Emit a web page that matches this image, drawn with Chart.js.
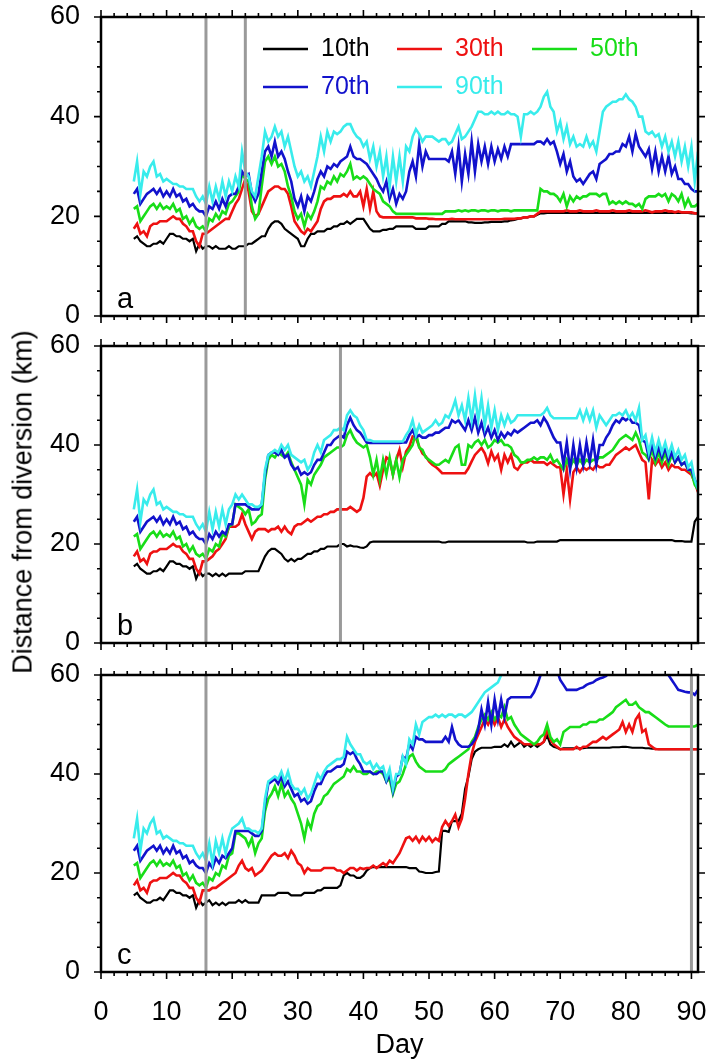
<!DOCTYPE html>
<html>
<head>
<meta charset="utf-8">
<script src="https://cdn.jsdelivr.net/npm/chart.js@4.4.1/dist/chart.umd.min.js"></script>
<style>
	body { margin: 0; background: #fff; }
	#fig { position: relative; width: 709px; height: 1059px; overflow: hidden; }
	#fig canvas { position: absolute; left: 0; }
	#ytitle {
		position: absolute; left: 23px; top: 502px;
		transform: translate(-50%, -50%) rotate(-90deg);
		font: 27px "Liberation Sans", Arial, sans-serif;
		white-space: nowrap; color: #000;
	}
</style>
</head>
<body>
<div id="fig">
	<canvas id="panelA" width="709" height="330" style="top:0px"></canvas>
	<canvas id="panelB" width="709" height="330" style="top:330px"></canvas>
	<canvas id="panelC" width="709" height="399" style="top:660px"></canvas>
	<div id="ytitle">Distance from diversion (km)</div>
</div>
<script>
// day of each sample, one row = 5 days
const days = [
	5, 5.5, 6, 6.5, 7, 7.5, 8, 8.5, 9, 9.5,
	10, 10.5, 11, 11.5, 12, 12.5, 13, 13.5, 14, 14.5,
	15, 15.5, 16, 16.5, 17, 17.5, 18, 18.5, 19, 19.5,
	20, 20.5, 21, 21.5, 22, 22.5, 23, 23.5, 24, 24.5,
	25, 25.5, 26, 26.5, 27, 27.5, 28, 28.5, 29, 29.5,
	30, 30.5, 31, 31.5, 32, 32.5, 33, 33.5, 34, 34.5,
	35, 35.5, 36, 36.5, 37, 37.5, 38, 38.5, 39, 39.5,
	40, 40.5, 41, 41.5, 42, 42.5, 43, 43.5, 44, 44.5,
	45, 45.5, 46, 46.5, 47, 47.5, 48, 48.5, 49, 49.5,
	50, 50.5, 51, 51.5, 52, 52.5, 53, 53.5, 54, 54.5,
	55, 55.5, 56, 56.5, 57, 57.5, 58, 58.5, 59, 59.5,
	60, 60.5, 61, 61.5, 62, 62.5, 63, 63.5, 64, 64.5,
	65, 65.5, 66, 66.5, 67, 67.5, 68, 68.5, 69, 69.5,
	70, 70.5, 71, 71.5, 72, 72.5, 73, 73.5, 74, 74.5,
	75, 75.5, 76, 76.5, 77, 77.5, 78, 78.5, 79, 79.5,
	80, 80.5, 81, 81.5, 82, 82.5, 83, 83.5, 84, 84.5,
	85, 85.5, 86, 86.5, 87, 87.5, 88, 88.5, 89, 89.5,
	90, 90.5, 91,
]

const percentiles = ['10th', '30th', '50th', '70th', '90th']
const colors = ['#000000', '#ee1111', '#18dd18', '#1212cc', '#38ecec']
const xTicks = [0, 10, 20, 30, 40, 50, 60, 70, 80, 90]
const yTicks = [0, 20, 40, 60]

// vertical grey lines (days)
const eventsA = [16, 22]
const eventsB = [16, 36.5]
const eventsC = [16, 90]

// ---- panel a ----
const a10 = [
	15.5, 16, 15, 14.5, 14, 14, 14.5, 14.5, 15, 14.5,
	15.5, 16.5, 16.5, 16, 16, 15.5, 15.5, 15, 15.5, 13,
	14.5, 13.5, 14, 14, 13.5, 14, 13.5, 13.5, 13.5, 14,
	13.5, 13.5, 14, 14, 14, 14.5, 14.5, 15, 15.5, 16,
	16, 17.5, 18.5, 19, 19, 18.5, 17.5, 17, 16.5, 16,
	15.5, 14, 14, 15.5, 16.5, 16.5, 17, 17, 17, 17.5,
	17.5, 18, 18, 18.5, 18.5, 19, 18.5, 19, 19.5, 19.5,
	19.5, 18.5, 17.5, 17, 17, 17, 17.3, 17.3, 17.5, 17.5,
	18, 18, 18, 18, 18, 18, 17.5, 17.5, 17.5, 17.5,
	18, 18, 18, 18, 18.5, 18.5, 19, 19, 19, 19,
	19, 19, 18.8, 18.8, 18.7, 18.7, 18.7, 18.8, 18.8, 18.9,
	18.9, 18.9, 18.9, 19, 19, 19.2, 19.3, 19.5, 19.6, 19.8,
	19.8, 20, 20, 20.3, 20.6, 20.6, 20.7, 20.7, 20.7, 20.7,
	20.7, 20.7, 20.7, 20.7, 20.7, 20.7, 20.7, 20.7, 20.7, 20.7,
	20.7, 20.7, 20.7, 20.7, 20.7, 20.7, 20.7, 20.7, 20.7, 20.7,
	20.7, 20.7, 20.7, 20.7, 20.7, 20.7, 20.7, 20.7, 20.7, 20.7,
	20.7, 20.7, 20.7, 20.7, 20.7, 20.7, 20.7, 20.7, 20.7, 20.7,
	20.6, 20.6, 20.6,
]
const a30 = [
	17.5, 18.5, 16.5, 17, 16, 18, 18.5, 18.5, 19, 19,
	19, 19.5, 20, 19.5, 19.5, 18.5, 18, 17, 17, 15,
	14, 16.5, 16.5, 17, 17.5, 18, 18.5, 19, 19.5, 19.5,
	21, 22.5, 23.5, 25.5, 27.5, 25, 21, 20, 20.5, 22,
	23.5, 25, 25.5, 26, 26, 25.5, 25.5, 24.5, 22, 19,
	18, 17, 16.5, 17.5, 17, 18, 19, 21.5, 23, 23.5,
	23.5, 24, 24, 24, 24.5, 24, 25, 24, 24, 25,
	22, 25.5, 21.5, 25, 21, 20, 19.8, 19.8, 19.8, 19.8,
	19.8, 19.8, 19.8, 19.8, 19.8, 19.8, 19.6, 19.6, 19.6, 19.6,
	19.5, 19.5, 19.4, 19.4, 19.4, 19.4, 19.4, 19.5, 19.4, 19.4,
	19.4, 19.4, 19.4, 19.4, 19.4, 19.4, 19.4, 19.4, 19.4, 19.4,
	19.4, 19.4, 19.4, 19.5, 19.5, 19.5, 19.5, 19.6, 19.6, 19.8,
	19.8, 20, 20, 20.5, 21, 21, 21, 21, 21, 21,
	21, 21, 21.2, 21, 21, 21, 21.2, 21, 21, 21,
	21, 21.2, 21, 21, 21, 21, 21.2, 21, 21, 21,
	21, 21.2, 21, 21, 21, 21, 21.2, 21, 20.8, 21,
	21, 21, 21.2, 21, 21, 20.8, 21, 20.8, 20.8, 20.8,
	20.8, 20.6, 20.6,
]
const a50 = [
	21.5, 22, 19, 20, 21, 22, 22.5, 21.5, 22.5, 21.5,
	22, 21.5, 22.5, 21, 21.5, 19.5, 20, 18.5, 19.5, 18,
	17.5, 18, 17, 19.5, 19, 20.5, 19.5, 21, 20.5, 22.5,
	23, 24, 25, 28.5, 27.5, 27, 22, 19.5, 20.5, 26,
	31, 32, 30.5, 32, 30, 30.5, 29, 26, 24, 21,
	19.5, 20.5, 18, 20.5, 19.5, 21, 23, 26, 25.5, 27,
	26.5, 28, 27, 28.5, 28, 29, 30.5, 27.5, 28, 27.5,
	28, 27.5, 26.5, 25.5, 25, 24.5, 23, 22.5, 22, 21,
	20.5, 20.5, 20.5, 20.5, 20.5, 20.5, 20.5, 20.5, 20.5, 20.5,
	20.5, 20.5, 20.5, 20.5, 20.5, 21, 21, 21, 21, 21.2,
	21, 21.2, 21, 21.2, 21.2, 21, 21.2, 21.2, 21, 21.2,
	21.2, 21, 21.2, 21.2, 21.2, 21, 21.2, 21.2, 21.2, 21.2,
	21.2, 21.2, 21.2, 21.2, 25.5, 25, 25, 24.5, 24.5, 24,
	23, 24.5, 22, 24, 23, 24, 23.5, 24, 24, 24.5,
	24.5, 24.5, 24, 24.5, 24.5, 22.5, 23, 22.5, 23, 22.5,
	23, 22.5, 22.5, 22, 22.5, 21.5, 23.5, 24, 24, 24,
	24.5, 24, 24.5, 23, 24.5, 24, 23, 24.5, 22, 23.5,
	22, 22, 22.5,
]
const a70 = [
	24.5, 25.5, 22.5, 23.5, 24.5, 25, 25.5, 24.5, 25.5, 24,
	25, 24, 25.5, 24, 24.5, 23, 23.5, 22, 22.5, 21.5,
	21, 21, 20, 22, 21.5, 23, 21.5, 23.5, 22, 24,
	24.5, 24.5, 26, 29, 28, 28.5, 24.5, 23, 24.5, 29,
	33, 34, 32, 35, 32, 33, 31.5, 29, 27, 23.5,
	22, 24, 21, 24, 23, 25, 27.5, 29, 28, 30,
	29.5, 30.5, 30, 31, 31.5, 32, 34, 32, 31.5, 31.5,
	31, 30.5, 29.5, 28.5, 27.5, 26, 25, 27, 23.5, 25.5,
	22.5, 24.5, 23.5, 25, 29, 31, 28, 34.5, 30, 33,
	31.5, 31.5, 31.5, 31.5, 31.5, 31.5, 31, 33, 28.5, 34,
	27, 32.5, 28.5, 35, 29, 34.5, 31, 34, 30.5, 34,
	31, 33.5, 31.5, 34, 32, 34.5, 34.5, 34.5, 34.5, 34.5,
	34.5, 34.5, 34.5, 35, 35, 34.5, 35.5, 34.5, 35, 33,
	30.5, 32.5, 29, 31, 28, 27, 27.5, 26.5, 27.5, 28.5,
	29, 27.5, 30.5, 31, 31.5, 32.5, 32.5, 33, 33, 34.5,
	34, 36, 33, 36.5, 34, 33, 32, 33.5, 29.5, 33,
	29, 32, 29, 32, 28.5, 30, 27.5, 27.5, 26.5, 26.5,
	25.5, 25, 25,
]
const a90 = [
	27, 31, 24.5, 29, 28, 30, 31, 28, 28.5, 27,
	27.5, 27, 26.5, 26.5, 26, 26, 25.5, 25.5, 25.5, 24,
	23, 24, 22.5, 26, 23, 26, 23.5, 27, 24, 27,
	25, 28, 26, 33, 29, 28, 25, 24, 28, 32,
	37, 35, 36, 38, 36, 37, 34, 36, 33, 30,
	28, 29, 27, 28, 26, 29, 32, 36, 33, 37,
	35, 37, 36.5, 37, 38, 38.5, 38.5, 37, 36, 35.5,
	34, 35, 31.5, 34, 30, 33, 28, 32, 26, 32,
	27, 32, 27, 34, 33, 36, 37.5, 36.5, 35, 36,
	36, 36, 35.5, 35, 35.5, 35.5, 34.5, 35, 36.5, 38,
	35.5, 36, 37, 38, 39.5, 41, 41, 40.5, 40.5, 41,
	40.5, 41, 40.5, 40.5, 41, 40.5, 40.5, 40, 36, 40.5,
	40.5, 41, 40.5, 41, 42, 44, 45, 42, 41, 37,
	39, 35.5, 38, 34.5, 36, 34, 34.5, 34, 36, 34,
	35, 33, 37, 41, 42, 42.5, 43, 43, 43.5, 43.5,
	44.5, 43.5, 43, 42, 40, 40, 37, 36.5, 37, 36,
	36.5, 34, 36, 33, 35, 32, 35, 31, 34, 30,
	34, 27, 33,
]

// ---- panel b ----
const b10 = [
	15.5, 16, 15, 14.5, 14, 14, 14.5, 14.5, 15, 14.5,
	15.5, 16.5, 16.5, 16, 16, 15.5, 15.5, 15, 15.5, 13,
	14.5, 13.5, 14, 14, 13.5, 14, 13.5, 14, 13.5, 14,
	14, 14, 14, 14, 14.5, 14.5, 14.5, 14.5, 14.5, 16,
	17.5, 18.5, 19, 19, 18.5, 18, 17, 16.5, 17, 16.5,
	17, 17, 17.5, 18, 18, 18.5, 18.5, 19, 19, 19.5,
	19.5, 19.5, 19.5, 20, 20, 19.5, 19.7, 19.5, 19.5, 19.3,
	19.2, 19.5, 20.3, 20.5, 20.5, 20.5, 20.5, 20.5, 20.5, 20.5,
	20.5, 20.5, 20.5, 20.5, 20.5, 20.5, 20.5, 20.5, 20.5, 20.5,
	20.5, 20.5, 20.5, 20.5, 20.3, 20.3, 20.5, 20.5, 20.5, 20.5,
	20.5, 20.5, 20.5, 20.5, 20.5, 20.5, 20.5, 20.5, 20.5, 20.5,
	20.5, 20.5, 20.5, 20.5, 20.5, 20.5, 20.5, 20.5, 20.5, 20.5,
	20.3, 20.3, 20.3, 20.5, 20.5, 20.5, 20.5, 20.5, 20.5, 20.5,
	20.8, 20.8, 20.8, 20.8, 20.8, 20.8, 20.8, 20.8, 20.8, 20.8,
	20.8, 20.8, 20.8, 20.8, 20.8, 20.8, 20.8, 20.8, 20.8, 20.8,
	20.8, 20.8, 20.8, 20.8, 20.8, 20.8, 20.8, 20.8, 20.8, 20.8,
	20.8, 20.8, 20.8, 20.8, 20.8, 20.6, 20.6, 20.6, 20.5, 20.5,
	20.5, 24.5, 25.5,
]
const b30 = [
	17.5, 18.5, 16.5, 17, 16, 18, 18.5, 18.5, 19, 19,
	19, 19.5, 20, 19.5, 19.5, 18.5, 18, 17, 17, 15,
	14, 16.5, 16.5, 17, 17.5, 18.5, 19, 20, 21, 23.5,
	23.5, 23.5, 24, 26, 24, 22.5, 21, 22.5, 23, 23,
	23, 22.5, 23, 23, 23.5, 22.5, 23.5, 22.5, 22, 23.5,
	24, 24, 24.5, 25, 24.5, 25, 25.5, 25.5, 26, 26,
	26.5, 26.5, 27, 27, 27, 27, 27.5, 27, 26.5, 27,
	29.3, 33.6, 34.3, 33.6, 34.3, 31.8, 35, 37.5, 37, 34,
	37, 39, 35.6, 38.7, 39.7, 41.7, 41.4, 39.7, 38.3, 37.7,
	36.7, 36, 35.6, 35, 34.3, 34.3, 34.3, 34.3, 34.3, 34.3,
	34.3, 34.3, 35.3, 36.7, 38, 38.7, 39.4, 38.3, 36.3, 38.7,
	37, 38, 35, 38, 36.5, 38, 35.5, 35, 36, 36.5,
	36.5, 37, 36.5, 36.5, 36.5, 36.5, 36, 36.5, 36, 35.5,
	35.5, 30, 35, 29, 34.5, 35.5, 34.5, 35.5, 35, 35.5,
	35, 36, 35.5, 35.5, 36, 36, 37, 38, 38.5, 39,
	39.5, 39, 39.5, 40, 38.5, 37, 36.5, 29, 37, 36,
	37, 35.5, 36.5, 35, 36, 35.5, 35.5, 35, 35, 34.5,
	34, 32.5, 30.5,
]
const b50 = [
	21.5, 22, 19, 20, 21, 22, 22.5, 21.5, 22.5, 21.5,
	22, 21.5, 22.5, 21, 21.5, 19.5, 20, 18.5, 19.5, 18,
	17.5, 18, 17, 19, 18.5, 20, 19.5, 22, 21.5, 23.5,
	24, 28, 27.5, 27, 26, 27, 24, 24.5, 25.5, 26,
	33, 37, 38, 37.5, 38.5, 38, 37.5, 38.5, 36.5, 35,
	33.5, 32, 28, 33, 32, 34, 35, 36, 37.5, 38,
	38.5, 39, 39.5, 39.5, 40, 42, 43, 41.5, 40.5, 40,
	39.5, 40, 37.5, 34, 37, 33, 37, 34, 37.5, 34,
	37, 33.5, 37, 38, 39, 40, 42.5, 39.5, 39, 37.5,
	37, 36.5, 36, 36, 36.5, 37, 36.5, 38, 39.5, 40,
	36, 36, 40, 39.5, 40.5, 41, 40, 41, 39.5, 40,
	41, 40.5, 41, 40, 40, 39.5, 38, 37.5, 36.5, 36.5,
	37, 37, 37.5, 37, 37.5, 37.5, 37, 38, 36.5, 37,
	36, 35, 37, 35.5, 37, 36, 37, 36, 37, 36.5,
	37, 37, 37.5, 37.5, 38, 38.5, 39, 40, 41, 41.5,
	42, 41.5, 41, 42.5, 41, 38.5, 38, 37, 39, 36.5,
	38.5, 36.5, 38.5, 36, 38, 36.5, 37.5, 36, 36.5, 35,
	34.5, 32, 31,
]
const b70 = [
	24.5, 25.5, 22.5, 23.5, 24.5, 25, 25.5, 24.5, 25.5, 24,
	25, 24, 25.5, 24, 24.5, 23, 23.5, 22, 22.5, 21.5,
	21, 21, 20, 22, 21, 22.5, 21.5, 22.5, 22, 24,
	24, 28, 28, 28, 28, 27.5, 27, 27, 27, 28,
	34, 38, 38.5, 38.5, 38, 39, 37.5, 38, 36, 35,
	35.5, 34, 34.5, 34, 34.5, 36, 37, 37, 38.5, 40,
	40, 41, 41.5, 42, 41.5, 44, 45.5, 44, 43, 42.5,
	41.5, 40.5, 40.4, 40.4, 40.4, 40.4, 40.4, 40.4, 40.4, 40.4,
	40.4, 40.4, 40.5, 40.5, 42, 43, 41.5, 42, 41.5, 41.5,
	42, 42, 42.5, 42.5, 43, 43.5, 43.5, 45, 44.5, 45,
	44, 43, 45, 43, 45.5, 42.5, 44.5, 42, 43.5, 41.5,
	43, 41, 42.5, 41.5, 42.5, 42, 43, 42.5, 43, 43.5,
	44, 44.5, 44.5, 45, 44, 45.5, 44.5, 43, 41.5, 40.5,
	40.5, 36, 40.5, 35, 40, 35.5, 40, 36, 40.5, 36.5,
	41, 36, 40, 40, 41.5, 42.5, 44, 45, 44.5, 45.5,
	45, 45.5, 44.5, 44.5, 44, 41, 40.5, 37.5, 40, 37.5,
	39.5, 37.5, 39.5, 37, 38.5, 36.5, 37.5, 36, 36.5, 35,
	35, 33, 31.5,
]
const b90 = [
	27, 31, 24.5, 29, 28, 30, 31, 28, 28.5, 27,
	27.5, 27, 26.5, 26.5, 26, 26, 25.5, 25.5, 25.5, 24,
	23, 24, 22.5, 26.5, 23, 26.5, 23.5, 27, 24, 27,
	28, 30, 29, 30, 29, 28, 28, 27.5, 27.5, 28,
	35, 38, 38.5, 39, 38.5, 40, 39, 40, 38, 37.5,
	37, 36.5, 37, 35, 36, 38.5, 40, 38.5, 41, 41.5,
	42, 43, 43, 43.5, 43, 46, 47, 46, 45.5, 44,
	43, 41, 41, 40.7, 40.7, 40.7, 40.7, 40.7, 40.7, 40.7,
	40.7, 40.7, 40.7, 42, 43, 45, 42, 44, 42.5, 43,
	43.5, 44, 45, 44, 44.5, 46, 45.5, 47, 49, 46,
	48, 45, 49.5, 45, 50, 45, 49.5, 44, 48, 43.5,
	47, 43, 46, 44, 46, 44.5, 45, 46, 46, 46,
	46, 46, 46, 46, 46, 46.5, 47.5, 46, 45.4, 45.4,
	45.4, 45.4, 45.4, 45.4, 45.4, 45.4, 47, 45, 47, 45,
	47, 43.5, 46, 45, 44, 45, 46, 46, 46.5, 46,
	47, 45.5, 46.5, 45, 47.5, 41, 42, 38.5, 41.5, 38.5,
	41, 38.5, 40.5, 38, 40, 37.5, 39, 37, 38, 35.5,
	36.5, 33, 31,
]

// ---- panel c ----
const c10 = [
	15.5, 16, 15, 14.5, 14, 14, 14.5, 14.5, 15, 14.5,
	15.5, 16.5, 16.5, 16, 16, 15.5, 15.5, 15, 15.5, 13,
	14.5, 13.5, 14, 14.5, 13.5, 14, 13.5, 14, 13.5, 14,
	14, 14, 14.5, 14, 14.5, 14, 14, 14, 14, 15.5,
	15.5, 15.5, 15.5, 15.5, 16, 16, 16, 16, 15.5, 15.5,
	15.5, 15.5, 16, 16, 16, 16, 16.5, 16.5, 17, 17,
	17, 17, 17, 17.5, 19.5, 20, 19.5, 19.5, 19, 19,
	19.5, 20.5, 21, 21.2, 21.2, 21.2, 21.2, 21.2, 21.2, 21.2,
	21.2, 21.2, 21.2, 21.2, 21, 21, 21, 20.3, 20.2, 20,
	20, 20, 20.2, 20.3, 28.5, 28.5, 28.3, 30.5, 30.5, 30.5,
	32, 37, 39.5, 43, 44.5, 45, 45.3, 45.3, 45.3, 45.3,
	45.5, 45.5, 45.5, 46, 45.5, 46.5, 45.5, 46, 46.5, 45.5,
	46, 45.5, 46, 45.5, 46, 46.5, 47.8, 46, 45.5, 45.3,
	45, 45.2, 45.2, 45.2, 45.2, 45.2, 45.2, 45.2, 45.3, 45.3,
	45.3, 45.3, 45.3, 45.3, 45.3, 45.3, 45.4, 45.4, 45.4, 45.5,
	45.5, 45.4, 45.3, 45.3, 45.3, 45.3, 45.2, 45.2, 45.1, 45.1,
	45, 45, 45, 45, 45, 45, 45, 45, 45, 45,
	45, 45, 45,
]
const c30 = [
	17.5, 18.5, 16.5, 17, 16, 18, 18.5, 18.5, 19, 19,
	19, 19.5, 20, 19.5, 19.5, 18.5, 18, 17, 17, 15,
	14, 16.5, 16.5, 16.5, 17, 17, 17.5, 18, 18.5, 19,
	19.5, 20, 21.5, 22.5, 21, 20.5, 21, 19.5, 20, 20.5,
	21.5, 22.5, 23.5, 24, 23.5, 23.5, 24, 23, 24.5, 23.5,
	22, 21.5, 20, 21, 20.5, 20.5, 20.5, 20.5, 21, 21,
	21, 21, 20.5, 20.5, 20, 20.5, 21, 21, 20.5, 21,
	20.8, 21, 21, 21.5, 21, 21.5, 22, 21.5, 22.5, 22,
	23, 24, 25.5, 27, 27.3, 26.5, 27.3, 26.2, 27.3, 26.5,
	27.3, 26.3, 27, 26.5, 29.3, 30.5, 29.5, 30.5, 31.8, 29.3,
	31, 35, 40, 44, 46.5, 48, 49.5, 51, 50, 51.5,
	50, 51.5, 49.5, 51, 49.5, 48.5, 47.5, 47, 46.5, 46,
	46, 46, 46, 46, 46, 46.5, 49, 47, 46, 45.5,
	45, 45, 45, 45, 45, 45.5, 45, 45.5, 45.5, 46,
	46.5, 46.5, 47, 47.5, 47, 47.5, 48, 48.5, 49, 50.5,
	48.5, 50, 48.5, 51, 52, 48.5, 49, 46, 45.5, 45,
	45, 45, 45, 45, 45, 45, 45, 45, 45, 45,
	45, 45, 45,
]
const c50 = [
	21.5, 22, 19, 20, 21, 22, 22.5, 21.5, 22.5, 21.5,
	22, 21.5, 22.5, 21, 21.5, 19.5, 20, 18.5, 19.5, 18,
	17.5, 18, 17, 19, 18.5, 20, 19.5, 21.5, 21, 23.5,
	24, 28, 28, 27.5, 27, 25.5, 27, 24, 26, 27,
	32.5, 35, 36, 37.5, 35.5, 38, 35.5, 36.5, 35, 34,
	32, 30, 27, 30.5, 29, 32, 33.5, 34, 35.5, 36,
	37, 38, 38.5, 39, 39.5, 41, 40.5, 41.5, 40.5, 40.5,
	40, 40, 40.5, 40, 40.5, 40.5, 40, 38.5, 39, 36,
	38, 38.5, 40, 42, 43.5, 44, 42.5, 41.5, 41, 40.5,
	40.5, 40.5, 40.5, 40.5, 40.5, 41, 42, 42.5, 43, 43.5,
	44, 44.5, 45, 46.5, 47.5, 49.5, 51, 52, 51, 52.5,
	51, 52, 51.5, 53.5, 51, 51.5, 50, 49, 48, 47.5,
	47, 46.5, 46, 46.5, 47.5, 48, 50, 47.5, 46.5, 47,
	46, 48.5, 49, 49.5, 49.5, 49.5, 49.5, 50, 50, 50.5,
	50.5, 50.5, 51, 51, 51.5, 52, 52.5, 53.5, 54, 54.5,
	55, 54, 54, 54.5, 53.5, 53, 52.5, 52.5, 52, 51.5,
	51, 50.5, 50, 49.6, 49.6, 49.6, 49.6, 49.6, 49.6, 49.6,
	49.6, 49.6, 50,
]
const c70 = [
	24.5, 25.5, 22.5, 23.5, 24.5, 25, 25.5, 24.5, 25.5, 24,
	25, 24, 25.5, 24, 24.5, 23, 23.5, 22, 22.5, 21.5,
	21, 21, 20, 22, 21, 23, 22, 23.5, 23, 24,
	25, 28.5, 28.5, 28.5, 28.5, 28.5, 28, 27.5, 27.5, 28.5,
	34, 38, 38.5, 39, 38, 39.5, 37.5, 38.5, 37, 35.5,
	36, 34.5, 35, 34, 34.5, 36.5, 38, 38, 39.5, 40.5,
	40.5, 41, 41.5, 41.5, 42, 44.5, 44, 44.5, 43, 42,
	40.5, 40.5, 40.5, 40, 40, 40.5, 40.5, 38.5, 40, 36.5,
	39.5, 40, 43.5, 43, 46, 45, 47.5, 47, 47, 46.5,
	46.5, 46.5, 46.5, 46.5, 46.5, 47.5, 46.5, 49.5, 47, 46,
	45.5, 45.5, 45.5, 46, 47, 49, 53, 50, 54.5, 50,
	55, 51, 55, 51.5, 55, 55.5, 55.5, 55.5, 55.5, 55.5,
	55.5, 55.5, 56.5, 58, 60, 61, 62, 62, 62, 61,
	59, 58, 57, 57, 57, 57, 57.3, 57.5, 58, 58.3,
	58.5, 59, 59.3, 59.5, 59.8, 60.5, 61, 61.5, 62, 62,
	62, 62, 62, 62, 62, 62, 62, 62, 62, 62,
	62, 61.5, 61, 60, 59, 58, 57, 56.8, 56.6, 56.5,
	56.5, 56, 57,
]
const c90 = [
	27, 31, 24.5, 29, 28, 30, 31, 28, 28.5, 27,
	27.5, 27, 26.5, 26.5, 26, 26, 25.5, 25.5, 25.5, 24,
	23, 24, 22.5, 26, 22, 26.5, 24, 27, 24, 27,
	29, 29.5, 30, 31, 29, 29, 28.5, 28.5, 28, 29,
	35, 38.5, 39, 39.5, 39, 40.5, 38.5, 40.5, 38, 37,
	37, 36, 37, 35, 36, 38, 40, 39, 40.5, 41.5,
	42, 42.5, 43, 43, 43.5, 47.5, 46, 45, 44, 44,
	42.5, 42, 42.5, 41, 42, 41, 41.5, 39, 41, 37,
	40, 40, 43.5, 42, 47, 46, 50, 48, 50.5, 51,
	51.5, 51.5, 52, 51.5, 52, 51.5, 52, 52, 51.5, 52,
	52, 51.5, 52, 52.5, 53.5, 54.5, 55.5, 56.5, 57, 57.5,
	58, 58.5, 60, 61.5, 62, 62.5, 63, 63, 63.5, 64,
	64, 64.5, 65, 65, 65.5, 66, 66, 66, 66, 66,
	66, 66, 66, 66, 66, 66, 66, 66, 66, 66,
	66, 66, 66, 66, 66, 66, 66, 66, 66, 66,
	66, 66, 66, 66, 66, 66, 66, 66, 66, 66,
	66, 66, 66, 66, 66, 66, 66, 66, 66, 66,
	66, 66, 66,
]

Chart.defaults.font.family = '"Liberation Sans", Arial, sans-serif'
Chart.defaults.color = '#000'

function lineSet(i, values) {
	return {
		label: percentiles[i],
		data: days.map((d, k) => ({ x: d, y: values[k] })),
		borderColor: colors[i],
		backgroundColor: colors[i],
		borderWidth: i === 0 ? 2.2 : 2.6,
		pointRadius: 0,
		tension: 0,
		// higher percentiles sit on top
		order: 5 - i,
	}
}

function eventSet(day) {
	return {
		label: 'event',
		data: [{ x: day, y: 0 }, { x: day, y: 60 }],
		borderColor: '#9a9a9a',
		borderWidth: 3,
		pointRadius: 0,
		order: 0,
	}
}

// frame, outward ticks on all four sides, panel letter, legend
const decor = {
	id: 'decor',
	afterDatasetsDraw(chart, args, opts) {
		const ctx = chart.ctx
		const area = chart.chartArea
		const xs = chart.scales.x
		const ys = chart.scales.y
		ctx.save()
		ctx.strokeStyle = '#000'
		ctx.lineWidth = 2.5
		ctx.strokeRect(area.left, area.top, area.right - area.left, area.bottom - area.top)

		ctx.lineWidth = 1.6
		ctx.beginPath()
		for (let d = 0; d <= 90; d += 2) {
			let px = xs.getPixelForValue(d)
			let len = d % 10 === 0 ? 7 : 4
			ctx.moveTo(px, area.bottom)
			ctx.lineTo(px, area.bottom + len)
			ctx.moveTo(px, area.top)
			ctx.lineTo(px, area.top - len)
		}
		for (let v = 0; v <= 60; v += 5) {
			let py = ys.getPixelForValue(v)
			let len = v % 20 === 0 ? 7 : 4
			ctx.moveTo(area.left, py)
			ctx.lineTo(area.left - len, py)
			ctx.moveTo(area.right, py)
			ctx.lineTo(area.right + len, py)
		}
		ctx.stroke()

		ctx.fillStyle = '#000'
		ctx.font = '29px "Liberation Sans"'
		ctx.textBaseline = 'alphabetic'
		ctx.textAlign = 'left'
		ctx.fillText(opts.letter, area.left + 16, area.bottom - 8)

		if (opts.legend) {
			let cols = [162, 296, 431]
			let rows = [32, 70]
			ctx.font = '25px "Liberation Sans"'
			ctx.textBaseline = 'middle'
			chart.data.datasets.filter(ds => ds.label !== 'event').forEach((ds, i) => {
				let x0 = area.left + cols[i % 3]
				let y0 = area.top + rows[Math.floor(i / 3)]
				ctx.strokeStyle = ds.borderColor
				ctx.lineWidth = 2.5
				ctx.beginPath()
				ctx.moveTo(x0, y0)
				ctx.lineTo(x0 + 45, y0)
				ctx.stroke()
				ctx.fillStyle = ds.borderColor
				ctx.fillText(ds.label, x0 + 58, y0)
			})
		}
		ctx.restore()
	}
}

function makePanel(id, series, events, letter, opts) {
	const datasets = series.map((s, i) => lineSet(i, s))
	events.forEach(d => datasets.push(eventSet(d)))
	return new Chart(document.getElementById(id), {
		type: 'line',
		data: { datasets: datasets },
		plugins: [decor],
		options: {
			responsive: false,
			animation: false,
			devicePixelRatio: 1,
			layout: { padding: opts.padding },
			plugins: {
				legend: { display: false },
				tooltip: { enabled: false },
				decor: { letter: letter, legend: opts.legend },
			},
			scales: {
				x: {
					type: 'linear',
					min: 0,
					max: 91,
					display: opts.showX,
					afterBuildTicks: s => { s.ticks = xTicks.map(v => ({ value: v })) },
					afterFit: s => {
						if (opts.showX) s.height = 87
						// labels may spill into the padding, keep the plot box fixed
						s.paddingLeft = 0
						s.paddingRight = 0
					},
					grid: { display: false, drawTicks: false },
					border: { display: false },
					ticks: { font: { size: 27 }, color: '#000', padding: 24, maxRotation: 0, autoSkip: false },
					title: { display: true, text: 'Day', font: { size: 27, lineHeight: 1 }, color: '#000', padding: 0 },
				},
				y: {
					type: 'linear',
					min: 0,
					max: 60,
					afterBuildTicks: s => { s.ticks = yTicks.map(v => ({ value: v })) },
					afterFit: s => {
						s.width = 101
						s.paddingTop = 0
						s.paddingBottom = 0
					},
					grid: { display: false, drawTicks: false },
					border: { display: false },
					ticks: { font: { size: 27 }, color: '#000', padding: 21 },
				},
			},
		},
	})
}

makePanel('panelA', [a10, a30, a50, a70, a90], eventsA, 'a',
	{ padding: { top: 17, right: 11, bottom: 14, left: 0 }, showX: false, legend: true })
makePanel('panelB', [b10, b30, b50, b70, b90], eventsB, 'b',
	{ padding: { top: 16, right: 11, bottom: 17, left: 0 }, showX: false, legend: false })
makePanel('panelC', [c10, c30, c50, c70, c90], eventsC, 'c',
	{ padding: { top: 15, right: 11, bottom: 0, left: 0 }, showX: true, legend: false })
</script>
</body>
</html>
